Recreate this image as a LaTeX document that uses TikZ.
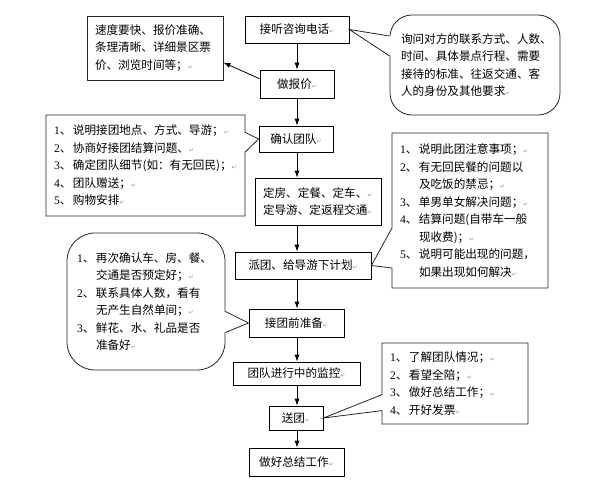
\documentclass[tikz,border=0pt]{standalone}
\usepackage{fontspec}
\setmainfont{Noto Sans CJK SC}
\newfontfamily\numfnt{Liberation Serif}
\newfontfamily\symfnt{DejaVu Sans}
\usetikzlibrary{arrows.meta,shapes.callouts}

\newcommand{\pmk}{{\symfnt\fontsize{6}{6}\selectfont\color{black!40}↵}}
\newcommand{\itm}[1]{\makebox[19pt][l]{{\numfnt #1}、}}
\newcommand{\ind}{\hspace*{19pt}}

\tikzset{
  stage/.style={draw, line width=0.8pt, inner sep=3pt,
                font=\fontsize{11.6}{17}\selectfont},
  note/.style={draw=black!85, line width=0.8pt, align=left, inner ysep=4pt,
               font=\fontsize{11.6}{17.5}\selectfont},
  flow/.style={draw, line width=0.8pt, -{Latex[length=7pt,width=5pt]}},
  tip/.style={draw=black!85, line width=0.8pt},
}

\begin{document}
\begin{tikzpicture}[x=1pt,y=-1pt]
  \useasboundingbox (0,0) rectangle (600,487);
  \coordinate (spine) at (297,0);

  % main line
  \node[stage, minimum width=104pt, minimum height=27pt] (call)     at (297,29.5)  {接听咨询电话\pmk};
  \node[stage, minimum width=74pt,  minimum height=28pt] (quote)    at (297,84)    {做报价\pmk};
  \node[stage, minimum width=74pt,  minimum height=26pt] (confirm)  at (296,139)   {确认团队\pmk};
  \node[stage, minimum width=126pt, minimum height=47pt, text width=110pt,
        inner xsep=8pt, align=left]                      (book)     at (318,201.5) {定房、定餐、定车、\pmk\\定导游、定返程交通\pmk};
  \node[stage, minimum width=136pt, minimum height=27pt] (dispatch) at (303,265.5) {派团、给导游下计划\pmk};
  \node[stage, minimum width=95pt,  minimum height=28pt] (prep)     at (296.5,323) {接团前准备\pmk};
  \node[stage, minimum width=127pt, minimum height=23pt] (watch)    at (296.5,373.5) {团队进行中的监控\pmk};
  \node[stage, minimum width=54pt,  minimum height=24pt] (send)     at (296,418)   {送团\pmk};
  \node[stage, minimum width=95pt,  minimum height=28pt] (wrap)     at (296.5,462) {做好总结工作\pmk};

  \path (call.south -| spine)     edge[flow] (quote.north -| spine)
        (quote.south -| spine)    edge[flow] (confirm.north -| spine)
        (confirm.south -| spine)  edge[flow] (book.north -| spine)
        (book.south -| spine)     edge[flow] (dispatch.north -| spine)
        (dispatch.south -| spine) edge[flow] (prep.north -| spine)
        (prep.south -| spine)     edge[flow] (watch.north -| spine)
        (watch.south -| spine)    edge[flow] (send.north -| spine)
        (send.south -| spine)     edge[flow] (wrap.north -| spine);

  % notes
  \node[note, minimum width=136pt, minimum height=64pt, text width=120pt,
        inner xsep=8pt] (speednote) at (155,48)
    {速度要快、报价准确、\\条理清晰、详细景区票\\价、浏览时间等；\pmk};
  \path (quote.172) edge[flow] (speednote.-12);

  \node[note, rounded corners=22pt, minimum width=170pt, minimum height=100pt,
        text width=148pt] (asknote) at (475,65)
    {询问对方的联系方式、人数、\\时间、具体景点行程、需要\\接待的标准、往返交通、客\\人的身份及其他要求\pmk};
  \fill[white] ([xshift=1.5pt,yshift=29pt]asknote.west) -- (call.east)
               -- ([xshift=1.5pt,yshift=9pt]asknote.west) -- cycle;
  \draw[tip] ([yshift=29pt]asknote.west) -- (call.east) -- ([yshift=9pt]asknote.west);

  \node[note, rectangle callout, callout absolute pointer={(confirm.west)},
        callout pointer width=20pt, minimum width=199pt, minimum height=101pt,
        text width=183pt, inner xsep=8pt] (confirmnote) at (145.5,165.5)
    {\itm{1}说明接团地点、方式、导游；\pmk\\
     \itm{2}协商好接团结算问题、\pmk\\
     \itm{3}确定团队细节(如：有无回民)；\pmk\\
     \itm{4}团队赠送；\pmk\\
     \itm{5}购物安排\pmk};

  \node[note, rectangle callout, callout absolute pointer={(dispatch.east)},
        callout pointer width=40pt, minimum width=156pt, minimum height=155pt,
        text width=140pt, inner xsep=8pt] (dispatchnote) at (470,210.5)
    {\itm{1}说明此团注意事项；\pmk\\
     \itm{2}有无回民餐的问题以\\
     \ind 及吃饭的禁忌；\pmk\\
     \itm{3}单男单女解决问题；\pmk\\
     \itm{4}结算问题(自带车一般\\
     \ind 现收费)；\pmk\\
     \itm{5}说明可能出现的问题，\\
     \ind 如果出现如何解决\pmk};

  \node[note, rounded corners=28pt, minimum width=158pt, minimum height=137pt,
        text width=138pt] (prepnote) at (146,301.5)
    {\itm{1}再次确认车、房、餐、\\
     \ind 交通是否预定好；\pmk\\
     \itm{2}联系具体人数，看有\\
     \ind 无产生自然单间；\pmk\\
     \itm{3}鲜花、水、礼品是否\\
     \ind 准备好\pmk};
  \fill[white] ([xshift=-1.5pt,yshift=-10pt]prepnote.east) -- (prep.west)
               -- ([xshift=-1.5pt,yshift=-31pt]prepnote.east) -- cycle;
  \draw[tip] ([yshift=-10pt]prepnote.east) -- (prep.west) -- ([yshift=-31pt]prepnote.east);

  \node[note, rectangle callout, callout absolute pointer={(send.east)},
        callout pointer width=16pt, minimum width=146pt, minimum height=81pt,
        text width=130pt, inner xsep=8pt] (sendnote) at (455,383.5)
    {\itm{1}了解团队情况；\pmk\\
     \itm{2}看望全陪；\pmk\\
     \itm{3}做好总结工作；\pmk\\
     \itm{4}开好发票\pmk};
\end{tikzpicture}
\end{document}
